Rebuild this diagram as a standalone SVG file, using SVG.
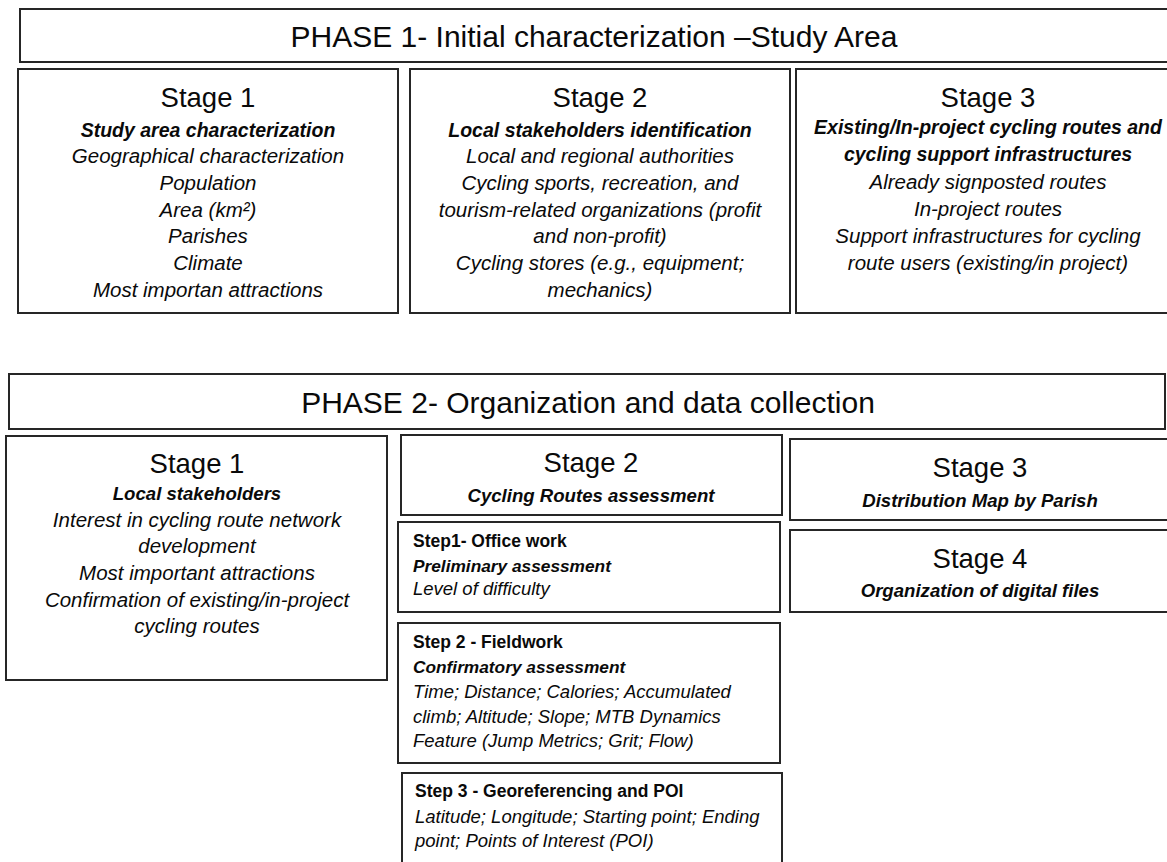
<svg xmlns="http://www.w3.org/2000/svg" width="1167" height="862" viewBox="0 0 1167 862">
<style>
  .box { fill: #ffffff; stroke: #262626; stroke-width: 2; }
  text { font-family: "Liberation Sans", Arial, sans-serif; fill: #0a0a0a; }
  .phase { font-size: 30px; text-anchor: middle; }
  .stage { font-size: 27.5px; text-anchor: middle; }
  .bi { font-size: 19.5px; font-weight: bold; font-style: italic; text-anchor: middle; }
  .bi2 { font-size: 18.6px; font-weight: bold; font-style: italic; text-anchor: middle; }
  .it { font-size: 20.5px; font-style: italic; text-anchor: middle; }
  .sb { font-size: 17.5px; font-weight: bold; }
  .sbi { font-size: 17.3px; font-weight: bold; font-style: italic; }
  .si { font-size: 18.5px; font-style: italic; }
</style>
<rect x="0" y="0" width="1167" height="862" fill="#ffffff"/>

<g id="phase1">
  <rect class="box" x="20" y="9" width="1150" height="53"/>
  <text class="phase" x="594" y="47">PHASE 1- Initial characterization –Study Area</text>
</g>

<g id="p1-stage1">
  <rect class="box" x="18" y="69" width="380" height="244"/>
  <text class="stage" x="208" y="107">Stage 1</text>
  <text class="bi" x="208" y="137">Study area characterization</text>
  <text class="it" x="208" y="163">Geographical characterization</text>
  <text class="it" x="208" y="190">Population</text>
  <text class="it" x="208" y="217">Area (km²)</text>
  <text class="it" x="208" y="243">Parishes</text>
  <text class="it" x="208" y="270">Climate</text>
  <text class="it" x="208" y="297">Most importan attractions</text>
</g>

<g id="p1-stage2">
  <rect class="box" x="410" y="69" width="380" height="244"/>
  <text class="stage" x="600" y="107">Stage 2</text>
  <text class="bi" x="600" y="137">Local stakeholders identification</text>
  <text class="it" x="600" y="163">Local and regional authorities</text>
  <text class="it" x="600" y="190">Cycling sports, recreation, and</text>
  <text class="it" x="600" y="217">tourism-related organizations (profit</text>
  <text class="it" x="600" y="243">and non-profit)</text>
  <text class="it" x="600" y="270">Cycling stores (e.g., equipment;</text>
  <text class="it" x="600" y="297">mechanics)</text>
</g>

<g id="p1-stage3">
  <rect class="box" x="796" y="69" width="384" height="244"/>
  <text class="stage" x="988" y="107">Stage 3</text>
  <text class="bi" x="988" y="134">Existing/In-project cycling routes and</text>
  <text class="bi" x="988" y="161">cycling support infrastructures</text>
  <text class="it" x="988" y="189">Already signposted routes</text>
  <text class="it" x="988" y="216">In-project routes</text>
  <text class="it" x="988" y="243">Support infrastructures for cycling</text>
  <text class="it" x="988" y="270">route users (existing/in project)</text>
</g>

<g id="phase2">
  <rect class="box" x="9" y="374" width="1156" height="55"/>
  <text class="phase" x="588" y="413">PHASE 2- Organization and data collection</text>
</g>

<g id="p2-stage1">
  <rect class="box" x="6" y="436" width="381" height="244"/>
  <text class="stage" x="197" y="473">Stage 1</text>
  <text class="bi2" x="197" y="500">Local stakeholders</text>
  <text class="it" x="197" y="527">Interest in cycling route network</text>
  <text class="it" x="197" y="553">development</text>
  <text class="it" x="197" y="580">Most important attractions</text>
  <text class="it" x="197" y="607">Confirmation of existing/in-project</text>
  <text class="it" x="197" y="633">cycling routes</text>
</g>

<g id="p2-stage2">
  <rect class="box" x="401" y="435" width="381" height="80"/>
  <text class="stage" x="591" y="472">Stage 2</text>
  <text class="bi2" x="591" y="502">Cycling Routes assessment</text>
</g>

<g id="step1">
  <rect class="box" x="398" y="522" width="382" height="90"/>
  <text class="sb" x="413" y="547">Step1- Office work</text>
  <text class="sbi" x="413" y="572">Preliminary assessment</text>
  <text class="si" x="413" y="595">Level of difficulty</text>
</g>

<g id="step2">
  <rect class="box" x="398" y="623" width="382" height="140"/>
  <text class="sb" x="413" y="648">Step 2 - Fieldwork</text>
  <text class="sbi" x="413" y="673">Confirmatory assessment</text>
  <text class="si" x="413" y="698">Time; Distance; Calories; Accumulated</text>
  <text class="si" x="413" y="723">climb; Altitude; Slope; MTB Dynamics</text>
  <text class="si" x="413" y="747">Feature (Jump Metrics; Grit; Flow)</text>
</g>

<g id="step3">
  <rect class="box" x="402" y="773" width="380" height="110"/>
  <text class="sb" x="415" y="797">Step 3 - Georeferencing and POI</text>
  <text class="si" x="415" y="823">Latitude; Longitude; Starting point; Ending</text>
  <text class="si" x="415" y="847">point; Points of Interest (POI)</text>
</g>

<g id="p2-stage3">
  <rect class="box" x="790" y="439" width="390" height="81"/>
  <text class="stage" x="980" y="477">Stage 3</text>
  <text class="bi2" x="980" y="507">Distribution Map by Parish</text>
</g>

<g id="p2-stage4">
  <rect class="box" x="790" y="530" width="390" height="82"/>
  <text class="stage" x="980" y="568">Stage 4</text>
  <text class="bi2" x="980" y="597">Organization of digital files</text>
</g>

<g id="connectors"></g>
</svg>
